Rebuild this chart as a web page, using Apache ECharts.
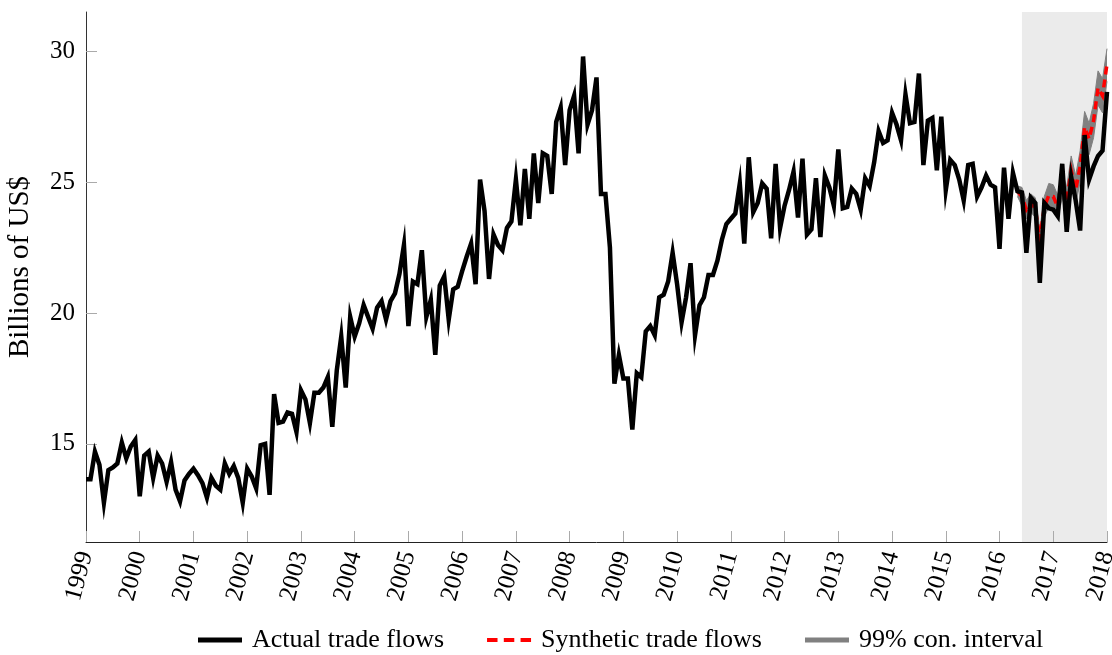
<!DOCTYPE html>
<html>
<head>
<meta charset="utf-8">
<script src="https://cdn.jsdelivr.net/npm/echarts@6.0.0/dist/echarts.min.js"></script>
<style>
  html, body { margin: 0; padding: 0; background: #ffffff; }
  #chart { width: 1112px; height: 655px; }
</style>
</head>
<body>
<div id="chart"></div>
<script>
// Year tick labels on the x axis (January of each year)
const yearTicks = ['1999','2000','2001','2002','2003','2004','2005','2006','2007','2008',
                   '2009','2010','2011','2012','2013','2014','2015','2016','2017','2018'];

// Monthly trade flows, billions of US$, Jan 1999 .. Jan 2018 (one row per year)
const actual = [
  13.65,13.65,14.7,14.2,12.75,14.0,14.1,14.25,15.05,14.45,14.9,15.15,
  13.0,14.55,14.7,13.7,14.55,14.25,13.55,14.3,13.25,12.8,13.6,13.85,
  14.05,13.8,13.5,12.95,13.7,13.4,13.25,14.25,13.85,14.15,13.7,12.75,
  14.05,13.75,13.3,14.95,15.0,13.05,16.9,15.8,15.85,16.2,16.15,15.45,
  17.05,16.7,15.8,16.95,16.95,17.15,17.55,15.65,17.8,19.1,17.15,19.85,
  19.1,19.6,20.3,19.85,19.4,20.2,20.45,19.75,20.45,20.75,21.5,22.6,
  19.5,21.2,21.1,22.4,19.85,20.5,18.4,21.05,21.4,19.75,20.9,21.0,
  21.6,22.15,22.65,21.1,25.1,23.9,21.3,23.0,22.6,22.4,23.25,23.5,
  25.1,23.35,25.5,23.6,26.1,24.2,26.1,26.0,24.55,27.3,27.85,25.65,
  27.75,28.3,26.1,29.8,27.2,27.75,29.0,24.55,24.55,22.5,17.3,18.4,
  17.5,17.5,15.55,17.7,17.55,19.3,19.5,19.15,20.6,20.7,21.2,22.3,
  21.1,19.65,20.6,21.9,19.15,20.3,20.6,21.45,21.45,22.0,22.8,23.4,
  23.6,23.8,24.95,22.65,25.95,23.85,24.2,24.95,24.75,22.85,25.7,23.25,
  24.1,24.7,25.4,23.65,25.9,23.0,23.2,25.15,22.9,25.25,24.8,24.1,
  26.25,24.0,24.05,24.75,24.55,23.95,25.15,24.85,25.75,26.95,26.5,26.6,
  27.65,27.2,26.6,28.35,27.25,27.3,29.15,25.65,27.35,27.45,25.45,27.5,
  24.7,25.85,25.65,25.1,24.3,25.65,25.7,24.45,24.8,25.25,24.9,24.8,
  22.45,25.55,23.6,25.35,24.65,24.6,22.3,24.4,24.2,21.15,24.2,24.0,
  23.95,23.7,25.7,23.1,25.2,24.3,23.15,26.8,25.1,25.6,26.0,26.2,
  28.45
];

// Synthetic counterfactual and its 99% interval, May 2016 .. Jan 2018
const postStart = '2016-05';
const syntheticPost = [24.65,24.45,23.95,24.2,24.0,22.8,24.05,24.5,24.45,24.05,24.9,
                       24.3,25.45,24.7,25.6,27.1,26.65,27.35,28.6,28.3,29.5];
const ciLowerPost   = [24.45,24.1,23.6,23.85,23.65,22.4,23.65,24.05,24.0,23.6,24.4,
                       23.8,24.9,24.15,25.0,26.5,26.05,26.7,27.95,27.65,28.85];
const ciUpperPost   = [24.85,24.8,24.3,24.55,24.4,23.2,24.45,24.95,24.9,24.5,25.4,
                       24.8,26.0,25.25,26.2,27.7,27.25,28.0,29.25,28.95,30.1];

// Shaded post-treatment window
const shadeFrom = '2016-06';
const shadeTo = '2018-01';

const yTickValues = [15, 20, 25, 30];

// Monthly category labels
const months = [];
yearTicks.forEach(function (y) {
  for (let m = 1; m <= 12; m++) months.push(y + '-' + String(m).padStart(2, '0'));
});
months.length = actual.length;

const startIdx = months.indexOf(postStart);
const pad = new Array(startIdx).fill(null);
const syntheticFull = pad.concat(syntheticPost);
const ciLowerFull = pad.concat(ciLowerPost);
// stacked band: height of the interval on top of its lower bound
const ciSpanFull = pad.concat(ciUpperPost.map(function (u, i) { return +(u - ciLowerPost[i]).toFixed(3); }));

const FONT = "'Liberation Serif', 'DejaVu Serif', serif";
const isYearStart = function (idx) { return idx % 12 === 0; };

const chart = echarts.init(document.getElementById('chart'), null, { renderer: 'canvas' });

chart.setOption({
  animation: false,
  backgroundColor: '#ffffff',
  grid: { left: 86, right: 5, top: 12, bottom: 113, containLabel: false, outerBoundsMode: 'none' },
  legend: {
    left: 198,
    top: 627,
    padding: 0,
    itemWidth: 44,
    itemHeight: 14,
    itemGap: 43,
    selectedMode: false,
    textStyle: { fontFamily: FONT, fontSize: 26, color: '#000', padding: [0, 0, 0, 5] },
    data: [
      { name: 'Actual trade flows', icon: 'path://M0,0H44V5H0Z', itemStyle: { color: '#000000' } },
      { name: 'Synthetic trade flows', icon: 'path://M0,0H10V4H0Z M16,0H26V4H16Z M32,0H42V4H32Z', itemStyle: { color: '#ff0000' } },
      { name: '99% con. interval', icon: 'path://M0,0H44V5H0Z', itemStyle: { color: '#808080' } }
    ]
  },
  xAxis: {
    type: 'category',
    data: months,
    boundaryGap: false,
    z: 4,
    axisLine: { show: true, lineStyle: { color: '#222', width: 1 } },
    axisTick: { show: true, inside: true, length: 11, interval: isYearStart, lineStyle: { color: '#aaaaaa', width: 1 } },
    axisLabel: {
      show: true,
      interval: isYearStart,
      rotate: 75,
      margin: 10,
      fontFamily: FONT,
      fontSize: 25,
      color: '#000',
      hideOverlap: false,
      formatter: function (v) { return v.slice(0, 4); }
    },
    splitLine: { show: false }
  },
  yAxis: {
    type: 'value',
    min: 11.25,
    max: 31.5,
    z: 4,
    name: 'Billions of US$',
    nameLocation: 'middle',
    nameRotate: 90,
    nameGap: 51,
    nameTextStyle: { fontFamily: FONT, fontSize: 29, color: '#000', padding: [0, 0, 0, 20] },
    axisLine: { show: true, lineStyle: { color: '#333', width: 1 } },
    axisTick: { show: true, inside: true, length: 11, customValues: yTickValues, lineStyle: { color: '#aaaaaa', width: 1 } },
    axisLabel: { show: true, margin: 11, customValues: yTickValues, fontFamily: FONT, fontSize: 25, color: '#000' },
    splitLine: { show: false }
  },
  series: [
    {
      name: 'ci-lower',
      type: 'line',
      data: ciLowerFull,
      stack: 'ci',
      symbol: 'none',
      silent: true,
      z: 1,
      lineStyle: { color: '#808080', width: 1 },
      markArea: {
        silent: true,
        itemStyle: { color: '#ebebeb', opacity: 1 },
        label: { show: false },
        data: [[{ xAxis: shadeFrom }, { xAxis: shadeTo }]]
      }
    },
    {
      name: '99% con. interval',
      type: 'line',
      data: ciSpanFull,
      stack: 'ci',
      symbol: 'none',
      silent: true,
      z: 2,
      lineStyle: { color: '#808080', width: 1 },
      areaStyle: { color: '#808080', opacity: 1 }
    },
    {
      name: 'Synthetic trade flows',
      type: 'line',
      data: syntheticFull,
      symbol: 'none',
      silent: true,
      z: 3,
      lineStyle: { color: '#ff0000', width: 3.5, type: [8, 5], join: 'miter', miterLimit: 10 }
    },
    {
      name: 'Actual trade flows',
      type: 'line',
      data: actual,
      symbol: 'none',
      silent: true,
      z: 4,
      lineStyle: { color: '#000000', width: 4.5, join: 'miter', miterLimit: 10 }
    }
  ]
});
</script>
</body>
</html>
